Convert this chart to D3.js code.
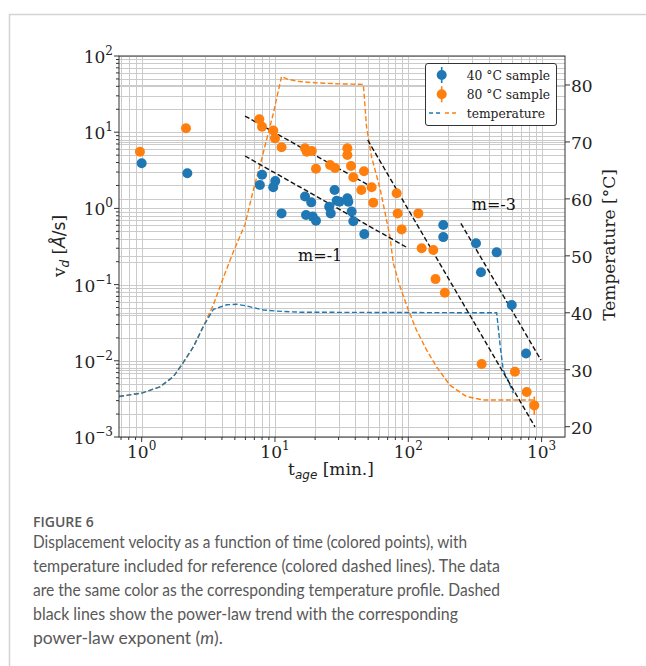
<!DOCTYPE html>
<html>
<head>
<meta charset="utf-8">
<script src="https://cdn.jsdelivr.net/npm/d3@7"></script>
<style>
body { margin: 0; background: #fff; }
svg { display: block; }
</style>
</head>
<body>
<svg id="viz" width="646" height="666"></svg>
<script>
// velocity data (t in min, v in A/s)
var blueT = [1.0, 2.2, 8.0, 7.7, 10.05, 9.7, 11.2, 16.8, 18.7, 17.1, 19.2, 20.3, 28.0, 29.0, 30.5, 25.5, 26.2, 34.9, 35.5, 37.6, 38.7, 46.8, 183, 183, 322, 460, 351, 597, 764];
var blueV = [3.91, 2.89, 2.77, 2.03, 2.29, 1.89, 0.86, 1.43, 1.20, 0.82, 0.78, 0.69, 1.74, 1.26, 1.22, 1.05, 0.86, 1.36, 1.22, 0.91, 0.68, 0.46, 0.605, 0.42, 0.348, 0.265, 0.145, 0.054, 0.0125];
var orangeT = [0.97, 2.15, 7.63, 7.99, 9.71, 10.0, 11.2, 16.8, 17.3, 18.9, 20.3, 25.9, 28.2, 34.9, 34.9, 37.2, 38.7, 46.5, 44.4, 53.1, 54.6, 81.8, 83.2, 89.2, 119, 126, 154, 160, 188, 355, 631, 773, 881];
var orangeV = [5.55, 11.25, 14.8, 11.8, 10.5, 8.3, 6.34, 6.15, 5.55, 5.67, 3.32, 3.71, 3.39, 6.15, 5.02, 3.6, 2.56, 3.07, 1.74, 1.89, 1.19, 1.58, 0.86, 0.53, 0.86, 0.30, 0.284, 0.118, 0.078, 0.0091, 0.0072, 0.0039, 0.0026];
var orangeErrT = [881];
var orangeErrLo = [0.00195];
var orangeErrHi = [0.0034];

// temperature profiles (right axis)
var temp40Time = [0.676, 1.0, 1.37, 1.73, 1.99, 2.44, 2.9, 3.45, 4.34, 5.16, 6.13, 8.17, 10.3, 15.4, 460, 472, 490, 515, 565, 613];
var temp40Val = [25.3, 25.9, 27.0, 28.8, 30.8, 34.0, 37.6, 40.6, 41.4, 41.5, 41.2, 40.5, 40.3, 40.1, 40.0, 37.6, 34.0, 30.0, 27.9, 25.9];
var temp80Time = [0.676, 1.0, 1.37, 1.73, 1.99, 2.44, 2.9, 3.45, 4.09, 4.87, 5.96, 6.87, 7.95, 9.0, 9.72, 11.2, 12.5, 15.4, 20, 30, 46, 48.6, 53, 61.7, 72.8, 77.2, 86.7, 100, 115, 137, 163, 205, 273, 365, 880];
var temp80Val = [25.3, 25.9, 27.0, 28.8, 30.8, 34.0, 37.6, 41.4, 46.1, 50.7, 55.5, 61.5, 67.0, 72.0, 75.0, 81.5, 81.0, 80.6, 80.4, 80.2, 80.1, 72.7, 67.4, 61.6, 53.4, 48.7, 44.6, 40.5, 37.0, 33.5, 30.5, 27.3, 25.3, 24.7, 24.7];

// power-law trend segments: start/end (t, v)
var trendT0 = [5.96, 5.96, 49.6, 248];
var trendV0 = [16.3, 4.87, 7.9, 0.637];
var trendT1 = [50, 100, 892, 990];
var trendV1 = [2.03, 0.30, 0.00136, 0.0102];
var trendLabels = ["m=-1", "m=-3"];
var trendLabelT = [14.9, 299];
var trendLabelV = [0.205, 0.95];

var xMajor = [1, 10, 100, 1000];
var xMajorExp = ["0", "1", "2", "3"];
var yMajor = [1e-3, 1e-2, 1e-1, 1, 10, 100];
var yMajorExp = ["\u22123", "\u22122", "\u22121", "0", "1", "2"];
var tempTicks = [20, 30, 40, 50, 60, 70, 80];
var legendLabels = ["40 \u00b0C sample", "80 \u00b0C sample", "temperature"];

var caption = [
	"Displacement velocity as a function of time (colored points), with",
	"temperature included for reference (colored dashed lines). The data",
	"are the same color as the corresponding temperature profile. Dashed",
	"black lines show the power-law trend with the corresponding",
	"power-law exponent ("
];

var blue = "#1f77b4", orange = "#ff7f0e", gridCol = "#cbcbcb";
var serif = "'DejaVu Serif', serif";
var pL = 119, pR = 565, pT = 56, pB = 437;

var x = d3.scaleLog().domain([0.676, 1498]).range([pL, pR]);
var y = d3.scaleLog().domain([1e-3, 1e2]).range([pB, pT]);
var yT = d3.scaleLinear().domain([18.19, 85.09]).range([pB, pT]);

var svg = d3.select("#viz");

// frame of the page
svg.append("path")
	.attr("d", "M9.5,666V14.5H646")
	.attr("fill", "none")
	.attr("stroke", "#d4d4d4")
	.attr("stroke-width", 1.5);

// minor/major positions
var xMinor = [], yMinor = [];
[0.1, 1, 10, 100, 1000].forEach(function(d){
	for (var k = 2; k <= 9; k++) {
		var v = d*k;
		if (v > 0.676 && v < 1498) xMinor.push(v);
	}
});
[1e-3, 1e-2, 1e-1, 1, 10].forEach(function(d){
	for (var k = 2; k <= 9; k++) yMinor.push(d*k);
});

var grid = svg.append("g").attr("class", "grid")
	.attr("stroke", gridCol).attr("stroke-width", 1);
grid.selectAll("line.gx")
	.data(xMinor.concat(xMajor))
	.enter().append("line")
	.attr("x1", function(d){ return Math.round(x(d))+0.5; })
	.attr("x2", function(d){ return Math.round(x(d))+0.5; })
	.attr("y1", pT).attr("y2", pB);
grid.selectAll("line.gy")
	.data(yMinor.concat(yMajor))
	.enter().append("line")
	.attr("y1", function(d){ return Math.round(y(d))+0.5; })
	.attr("y2", function(d){ return Math.round(y(d))+0.5; })
	.attr("x1", pL).attr("x2", pR);
grid.selectAll("line.gt")
	.data(tempTicks)
	.enter().append("line")
	.attr("y1", function(d){ return Math.round(yT(d))+0.5; })
	.attr("y2", function(d){ return Math.round(yT(d))+0.5; })
	.attr("x1", pL).attr("x2", pR);

// temperature profiles
var tline = d3.line()
	.x(function(d){ return x(d[0]); })
	.y(function(d){ return yT(d[1]); });
svg.append("path")
	.attr("d", tline(d3.zip(temp80Time, temp80Val)))
	.attr("fill", "none").attr("stroke", orange)
	.attr("stroke-width", 1.4).attr("stroke-dasharray", "5,2.5");
svg.append("path")
	.attr("d", tline(d3.zip(temp40Time, temp40Val)))
	.attr("fill", "none").attr("stroke", blue)
	.attr("stroke-width", 1.4).attr("stroke-dasharray", "5,2.5");

// power-law trends
svg.append("g").selectAll("line")
	.data(d3.range(trendT0.length))
	.enter().append("line")
	.attr("x1", function(i){ return x(trendT0[i]); })
	.attr("y1", function(i){ return y(trendV0[i]); })
	.attr("x2", function(i){ return x(trendT1[i]); })
	.attr("y2", function(i){ return y(trendV1[i]); })
	.attr("stroke", "#111").attr("stroke-width", 1.4)
	.attr("stroke-dasharray", "5,2.5");

svg.append("g").selectAll("text")
	.data(trendLabels)
	.enter().append("text")
	.attr("x", function(d, i){ return x(trendLabelT[i]); })
	.attr("y", function(d, i){ return y(trendLabelV[i]); })
	.attr("font-family", serif).attr("font-size", 16)
	.attr("fill", "#111")
	.text(function(d){ return d; });

// points
svg.append("g").selectAll("circle")
	.data(d3.zip(blueT, blueV))
	.enter().append("circle")
	.attr("cx", function(d){ return x(d[0]); })
	.attr("cy", function(d){ return y(d[1]); })
	.attr("r", 5).attr("fill", blue);
svg.append("g").selectAll("circle")
	.data(d3.zip(orangeT, orangeV))
	.enter().append("circle")
	.attr("cx", function(d){ return x(d[0]); })
	.attr("cy", function(d){ return y(d[1]); })
	.attr("r", 5).attr("fill", orange);
svg.append("g").selectAll("line")
	.data(d3.range(orangeErrT.length))
	.enter().append("line")
	.attr("x1", function(i){ return x(orangeErrT[i]); })
	.attr("x2", function(i){ return x(orangeErrT[i]); })
	.attr("y1", function(i){ return y(orangeErrLo[i]); })
	.attr("y2", function(i){ return y(orangeErrHi[i]); })
	.attr("stroke", orange).attr("stroke-width", 1.6);

// spines
svg.append("rect")
	.attr("x", pL).attr("y", pT)
	.attr("width", pR-pL).attr("height", pB-pT)
	.attr("fill", "none").attr("stroke", "#333").attr("stroke-width", 1);

// ticks
var ticks = svg.append("g").attr("stroke", "#333").attr("stroke-width", 1);
ticks.selectAll("line.xt")
	.data(xMajor).enter().append("line")
	.attr("x1", function(d){ return x(d); }).attr("x2", function(d){ return x(d); })
	.attr("y1", pB).attr("y2", pB+5);
ticks.selectAll("line.xm")
	.data(xMinor).enter().append("line")
	.attr("x1", function(d){ return x(d); }).attr("x2", function(d){ return x(d); })
	.attr("y1", pB).attr("y2", pB+3);
ticks.selectAll("line.yt")
	.data(yMajor).enter().append("line")
	.attr("y1", function(d){ return y(d); }).attr("y2", function(d){ return y(d); })
	.attr("x1", pL).attr("x2", pL-5);
ticks.selectAll("line.ym")
	.data(yMinor).enter().append("line")
	.attr("y1", function(d){ return y(d); }).attr("y2", function(d){ return y(d); })
	.attr("x1", pL).attr("x2", pL-3);
ticks.selectAll("line.tt")
	.data(tempTicks).enter().append("line")
	.attr("y1", function(d){ return yT(d); }).attr("y2", function(d){ return yT(d); })
	.attr("x1", pR).attr("x2", pR+5);

// tick labels
var xl = svg.append("g").attr("font-family", serif).attr("font-size", 17).attr("fill", "#222");
xl.selectAll("text")
	.data(xMajor).enter().append("text")
	.attr("x", function(d){ return x(d); })
	.attr("y", 458)
	.attr("text-anchor", "middle")
	.each(function(d, i){
		var t = d3.select(this);
		t.append("tspan").text("10");
		t.append("tspan").attr("font-size", 12).attr("dy", -8).text(xMajorExp[i]);
	});
var yl = svg.append("g").attr("font-family", serif).attr("font-size", 17).attr("fill", "#222");
yl.selectAll("text")
	.data(yMajor).enter().append("text")
	.attr("x", 113)
	.attr("y", function(d){ return y(d)+7; })
	.attr("text-anchor", "end")
	.each(function(d, i){
		var t = d3.select(this);
		t.append("tspan").text("10");
		t.append("tspan").attr("font-size", 12).attr("dy", -8).text(yMajorExp[i]);
	});
svg.append("g").attr("font-family", serif).attr("font-size", 17).attr("fill", "#222")
	.selectAll("text")
	.data(tempTicks).enter().append("text")
	.attr("x", 571)
	.attr("y", function(d){ return yT(d)+7; })
	.text(function(d){ return d; });

// axis titles
var xt = svg.append("text")
	.attr("x", 331).attr("y", 475)
	.attr("text-anchor", "middle")
	.attr("font-family", serif).attr("font-size", 17).attr("fill", "#222");
xt.append("tspan").text("t");
xt.append("tspan").attr("font-family", "'DejaVu Sans'").attr("font-style", "italic")
	.attr("font-size", 12).attr("dy", 4).text("age");
xt.append("tspan").attr("dy", -4).text(" [min.]");

var yt = svg.append("text")
	.attr("transform", "translate(65,246) rotate(-90)")
	.attr("text-anchor", "middle")
	.attr("font-family", serif).attr("font-size", 17).attr("fill", "#222");
yt.append("tspan").text("v");
yt.append("tspan").attr("font-family", "'DejaVu Sans'").attr("font-style", "italic")
	.attr("font-size", 12).attr("dy", 4).text("d");
yt.append("tspan").attr("dy", -4).text(" [");
yt.append("tspan").attr("font-family", "'DejaVu Sans'").attr("font-style", "italic").text("\u00c5");
yt.append("tspan").attr("font-family", "'DejaVu Sans'").text("/s");
yt.append("tspan").text("]");

svg.append("text")
	.attr("transform", "translate(615,245) rotate(-90)")
	.attr("text-anchor", "middle")
	.attr("font-family", serif).attr("font-size", 17).attr("fill", "#222")
	.text("Temperature [\u00b0C]");

// legend
var lg = svg.append("g").attr("transform", "translate(425,63)");
lg.append("rect")
	.attr("x", 0.5).attr("y", 0.5).attr("width", 131).attr("height", 62)
	.attr("rx", 2.5)
	.attr("fill", "#fff").attr("stroke", "#333").attr("stroke-width", 1);
[blue, orange].forEach(function(c, i){
	var cy = 12 + i*19.3;
	lg.append("line").attr("x1", 16.7).attr("x2", 16.7)
		.attr("y1", cy-8).attr("y2", cy+8)
		.attr("stroke", c).attr("stroke-width", 1.6);
	lg.append("circle").attr("cx", 16.7).attr("cy", cy).attr("r", 5).attr("fill", c);
});
lg.append("line").attr("x1", 4).attr("x2", 16).attr("y1", 50).attr("y2", 50)
	.attr("stroke", blue).attr("stroke-width", 1.4).attr("stroke-dasharray", "4,3");
lg.append("line").attr("x1", 20).attr("x2", 32).attr("y1", 50).attr("y2", 50)
	.attr("stroke", orange).attr("stroke-width", 1.4).attr("stroke-dasharray", "4,3");
lg.selectAll("text.lab")
	.data(legendLabels).enter().append("text")
	.attr("x", 41.7)
	.attr("y", function(d, i){ return 16.5 + i*19.3; })
	.attr("font-family", serif).attr("font-size", 12.3).attr("fill", "#222")
	.text(function(d){ return d; });

// caption
svg.append("text")
	.attr("x", 33).attr("y", 527)
	.attr("font-family", "'Open Sans', sans-serif").attr("font-size", 14)
	.attr("font-weight", 600).attr("fill", "#595959")
	.text("FIGURE 6");
var capEnds = [467, 500, 500, 458];
var cap = svg.append("g")
	.attr("font-family", "Lato, 'Open Sans', sans-serif").attr("font-size", 17.5).attr("fill", "#595959");
caption.forEach(function(line, i){
	var t = cap.append("text")
		.attr("x", 33).attr("y", 548 + i*24.1);
	if (i < capEnds.length) {
		t.attr("textLength", capEnds[i]-33).attr("lengthAdjust", "spacingAndGlyphs");
	}
	t.append("tspan").text(line);
	if (i == caption.length-1) {
		t.append("tspan").attr("font-style", "italic").text("m");
		t.append("tspan").text(").");
	}
});
</script>
</body>
</html>
